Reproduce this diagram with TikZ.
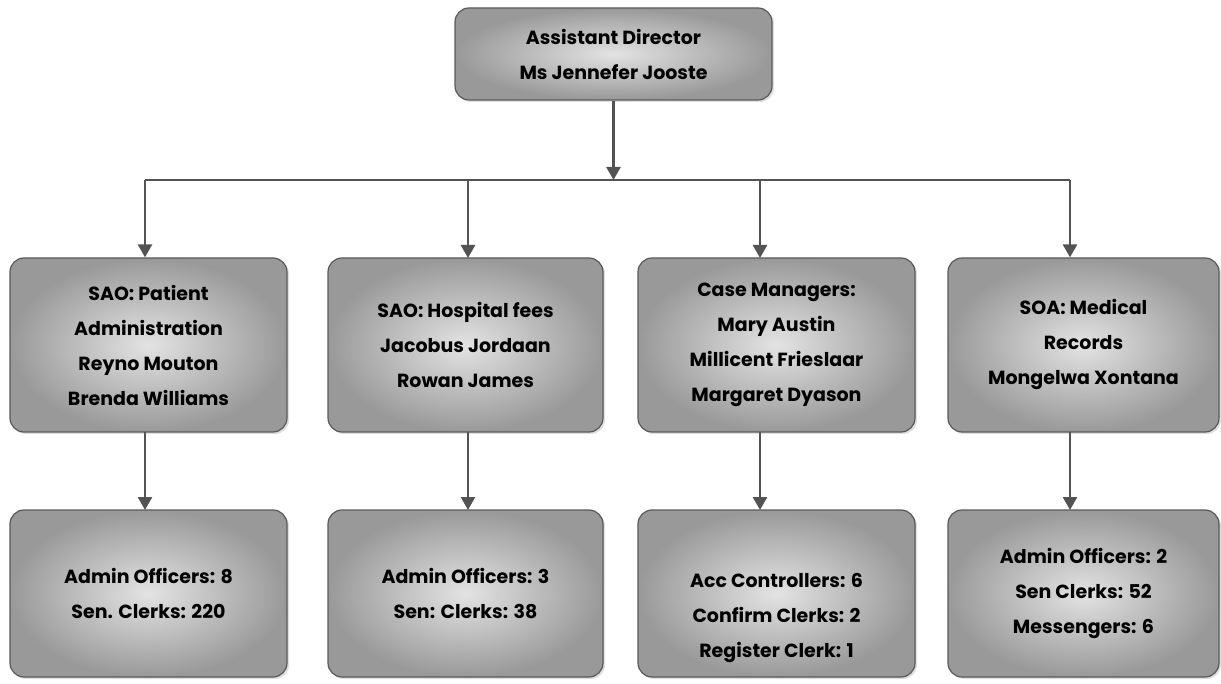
\documentclass[tikz,border=0pt]{standalone}
\usepackage{fontspec}
\setmainfont{Poppins}
\usetikzlibrary{arrows.meta,shadows}
\begin{document}
\begin{tikzpicture}[x=1pt,y=-1pt,
  box/.style={draw=gray!70!black,line width=1.2pt,rounded corners=14pt,
    inner color=gray!22,outer color=gray!80,
    drop shadow={shadow xshift=2pt,shadow yshift=-2pt,opacity=0.25},
    align=center,font={\fontsize{19}{35}\selectfont\bfseries},text=black},
  conn/.style={draw=gray!65!black,line width=2.6pt},
  arr/.style={conn,-{Triangle[length=13pt,width=14pt]}}]
\useasboundingbox (0,0) rectangle (1221,684);
\node[box,minimum width=317pt,minimum height=92pt] (top) at (613.5,54) {Assistant Director\\Ms Jennefer Jooste};
\node[box,minimum width=277pt,minimum height=174pt] (a1) at (148.5,345) {SAO: Patient\\Administration\\Reyno Mouton\\Brenda Williams};
\node[box,minimum width=275pt,minimum height=174pt] (a2) at (465.5,345) {SAO: Hospital fees\\Jacobus Jordaan\\Rowan James};
\node[box,minimum width=277pt,minimum height=174pt] (a3) at (776.5,345) {Case Managers:\\Mary Austin\\Millicent Frieslaar\\Margaret Dyason};
\node[box,minimum width=271pt,minimum height=174pt] (a4) at (1083.5,345) {SOA: Medical\\Records\\Mongelwa Xontana};
\node[box,minimum width=277pt,minimum height=167pt] (b1) at (148.5,593.5) {Admin Officers: 8\\Sen. Clerks: 220};
\node[box,minimum width=275pt,minimum height=167pt] (b2) at (465.5,593.5) {Admin Officers: 3\\Sen: Clerks: 38};
\node[box,minimum width=277pt,minimum height=167pt] (b3) at (776.5,593.5) {\mbox{}\\[28pt]Acc Controllers: 6\\Confirm Clerks: 2\\Register Clerk: 1};
\node[box,minimum width=271pt,minimum height=167pt] (b4) at (1083.5,593.5) {Admin Officers: 2\\Sen Clerks: 52\\Messengers: 6};
\coordinate (bus) at (613.5,180);
\coordinate (busL) at (145,180);
\coordinate (busR) at (1070,180);
\draw[conn] (busL) -- (busR);
\draw[arr] (top.south) -- (bus);
\draw[arr] (busL) -- (busL |- a1.north);
\draw[arr] (468,180) -- (468,258);
\draw[arr] (760,180) -- (760,258);
\draw[arr] (busR) -- (busR |- a4.north);
\draw[arr] (145,432) -- (145 ,510);
\draw[arr] (468,432) -- (468,510);
\draw[arr] (760,432) -- (760,510);
\draw[arr] (1070,432) -- (1070,510);
\end{tikzpicture}
\end{document}
